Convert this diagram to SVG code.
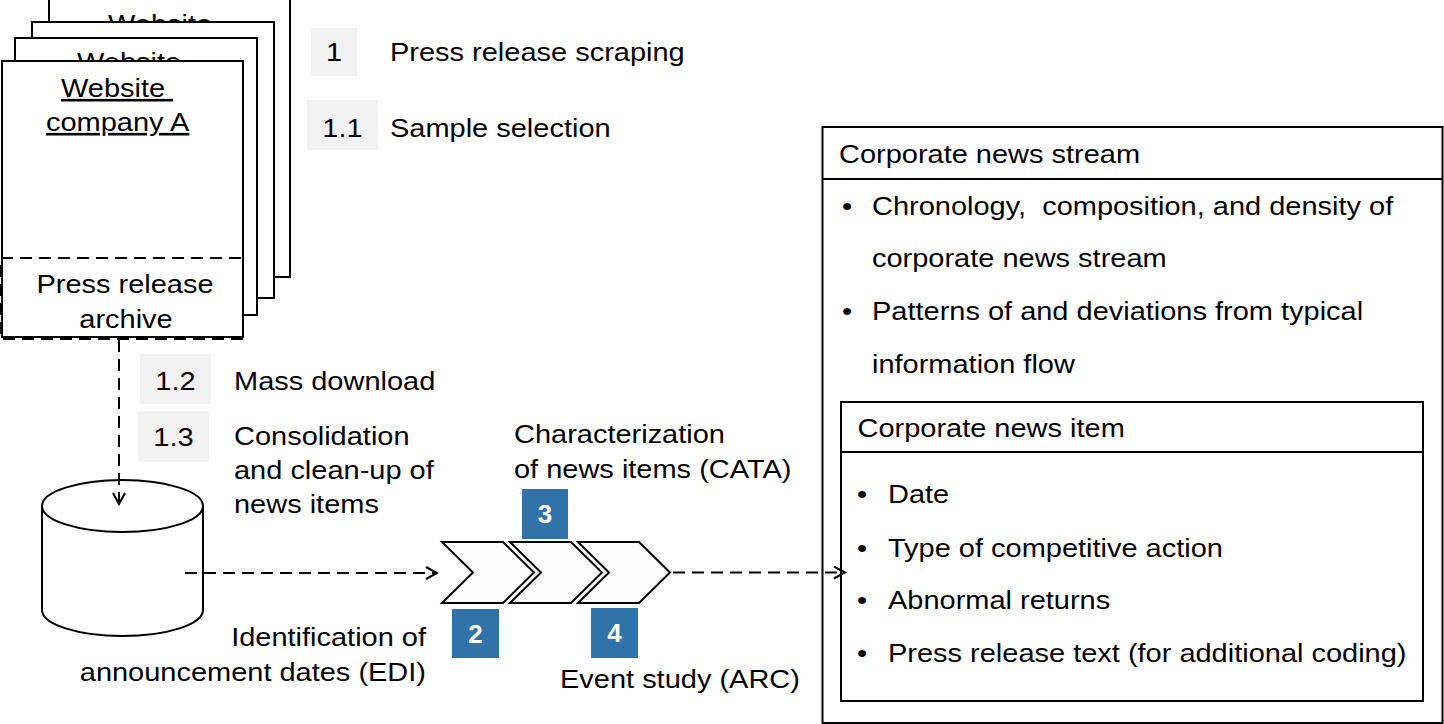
<svg xmlns="http://www.w3.org/2000/svg" width="1444" height="724" viewBox="0 0 1444 724">
<defs>
<style>
.t{font-family:"Liberation Sans",Arial,sans-serif;font-size:26px;fill:#000}
.n{font-family:"Liberation Sans",Arial,sans-serif;font-size:26px;font-weight:bold;fill:#fff;text-anchor:middle}
.m{text-anchor:middle}
.e{text-anchor:end}
.page{fill:#fff;stroke:#000;stroke-width:2}
.box{fill:none;stroke:#000;stroke-width:2}
.gray{fill:#f2f2f2}
.blue{fill:#3173a9}
.chev{fill:#fcfcfc;stroke:#000;stroke-width:2;stroke-linejoin:miter}
.dash{fill:none;stroke:#000;stroke-width:2;stroke-dasharray:12 7}
</style>
<marker id="arr" markerWidth="14" markerHeight="14" refX="12" refY="7" orient="auto" markerUnits="userSpaceOnUse">
<path d="M1,1 L12,7 L1,13" fill="none" stroke="#000" stroke-width="2"/>
</marker>
</defs>
<rect width="1444" height="724" fill="#fff"/>

<g id="websites">
<rect class="page" x="49" y="-4" width="241" height="281"/>
<text class="t" xml:space="preserve" text-decoration="underline" transform="translate(108,32.5) scale(1.115,1)">Website </text>
<rect class="page" x="32" y="22" width="242" height="276"/>
<rect class="page" x="15" y="38" width="242" height="277"/>
<text class="t" xml:space="preserve" text-decoration="underline" transform="translate(77,70.5) scale(1.115,1)">Website </text>
<rect class="page" x="2" y="61" width="241" height="276"/>
<text class="t" xml:space="preserve" text-decoration="underline" transform="translate(61,97) scale(1.115,1)">Website </text>
<text class="t" text-decoration="underline" transform="translate(46,131) scale(1.115,1)">company A</text>
<rect class="dash" x="1" y="258" width="242" height="81"/>
<text class="t m" transform="translate(125,293) scale(1.115,1)">Press release</text>
<text class="t m" transform="translate(126,328) scale(1.115,1)">archive</text>
</g>

<g id="step1">
<rect class="gray" x="311" y="28" width="46" height="48"/>
<text class="t m" transform="translate(334,61) scale(1.115,1)">1</text>
<text class="t" transform="translate(390,61) scale(1.115,1)">Press release scraping</text>
</g>
<g id="step1-1">
<rect class="gray" x="307" y="100" width="71" height="50"/>
<text class="t m" transform="translate(342.5,137) scale(1.115,1)">1.1</text>
<text class="t" transform="translate(390,137) scale(1.115,1)">Sample selection</text>
</g>
<g id="step1-2">
<rect class="gray" x="140" y="354" width="71" height="50"/>
<text class="t m" transform="translate(175.5,390) scale(1.115,1)">1.2</text>
<text class="t" transform="translate(234,390) scale(1.115,1)">Mass download</text>
</g>
<g id="step1-3">
<rect class="gray" x="138" y="411" width="71" height="51"/>
<text class="t m" transform="translate(173.5,446) scale(1.115,1)">1.3</text>
<text class="t" transform="translate(234,445) scale(1.115,1)">Consolidation</text>
<text class="t" transform="translate(234,479) scale(1.115,1)">and clean-up of</text>
<text class="t" transform="translate(234,513) scale(1.115,1)">news items</text>
</g>

<g id="database">
<path d="M42,506 L42,610 A80.5,26 0 0 0 203,610 L203,506" fill="#fff" stroke="#000" stroke-width="2"/>
<ellipse cx="122.5" cy="506" rx="80.5" ry="26" fill="#fff" stroke="#000" stroke-width="2"/>
</g>

<g id="process">
<path class="chev" d="M442,542 L503,542 L534,572.5 L503,603 L442,603 L473,572.5 Z"/>
<path class="chev" d="M510,542 L571,542 L602,572.5 L571,603 L510,603 L541,572.5 Z"/>
<path class="chev" d="M578,542 L639,542 L670,572.5 L639,603 L578,603 L609,572.5 Z"/>
</g>
<g id="step2">
<rect class="blue" x="452" y="609" width="47" height="49"/>
<text class="n" x="475.5" y="643">2</text>
<text class="t e" transform="translate(426,646) scale(1.115,1)">Identification of</text>
<text class="t e" transform="translate(426,681) scale(1.115,1)">announcement dates (EDI)</text>
</g>
<g id="step3">
<rect class="blue" x="522" y="489" width="46" height="50"/>
<text class="n" x="545" y="523">3</text>
<text class="t" transform="translate(514,443) scale(1.115,1)">Characterization</text>
<text class="t" transform="translate(514,478) scale(1.115,1)">of news items (CATA)</text>
</g>
<g id="step4">
<rect class="blue" x="591" y="608" width="47" height="50"/>
<text class="n" x="614.5" y="642">4</text>
<text class="t" transform="translate(560,688) scale(1.115,1)">Event study (ARC)</text>
</g>

<g id="stream">
<rect class="box" x="822.5" y="127" width="620" height="596"/>
<line x1="822.5" y1="179" x2="1442.5" y2="179" stroke="#000" stroke-width="2"/>
<text class="t" transform="translate(839,163) scale(1.115,1)">Corporate news stream</text>
<text class="t" transform="translate(842,215) scale(1.115,1)">•</text>
<text class="t" xml:space="preserve" transform="translate(872,215) scale(1.115,1)">Chronology,  composition, and density of</text>
<text class="t" transform="translate(872,267) scale(1.115,1)">corporate news stream</text>
<text class="t" transform="translate(842,320) scale(1.115,1)">•</text>
<text class="t" transform="translate(872,320) scale(1.115,1)">Patterns of and deviations from typical</text>
<text class="t" transform="translate(872,373) scale(1.115,1)">information flow</text>
</g>
<g id="item">
<rect class="box" x="841" y="402" width="582" height="299"/>
<line x1="841" y1="452" x2="1423" y2="452" stroke="#000" stroke-width="2"/>
<text class="t" transform="translate(857.5,437) scale(1.115,1)">Corporate news item</text>
<text class="t" transform="translate(857,503) scale(1.115,1)">•</text>
<text class="t" transform="translate(888,503) scale(1.115,1)">Date</text>
<text class="t" transform="translate(857,557) scale(1.115,1)">•</text>
<text class="t" transform="translate(888,557) scale(1.115,1)">Type of competitive action</text>
<text class="t" transform="translate(857,609) scale(1.115,1)">•</text>
<text class="t" transform="translate(888,609) scale(1.115,1)">Abnormal returns</text>
<text class="t" transform="translate(857,662) scale(1.115,1)">•</text>
<text class="t" transform="translate(888,662) scale(1.115,1)">Press release text (for additional coding)</text>
</g>

<g id="connectors">
<line class="dash" x1="119" y1="340" x2="119" y2="504" marker-end="url(#arr)"/>
<line class="dash" x1="185" y1="573" x2="437" y2="573" marker-end="url(#arr)"/>
<line class="dash" x1="673" y1="572.5" x2="845" y2="572.5" marker-end="url(#arr)"/>
</g>
</svg>
